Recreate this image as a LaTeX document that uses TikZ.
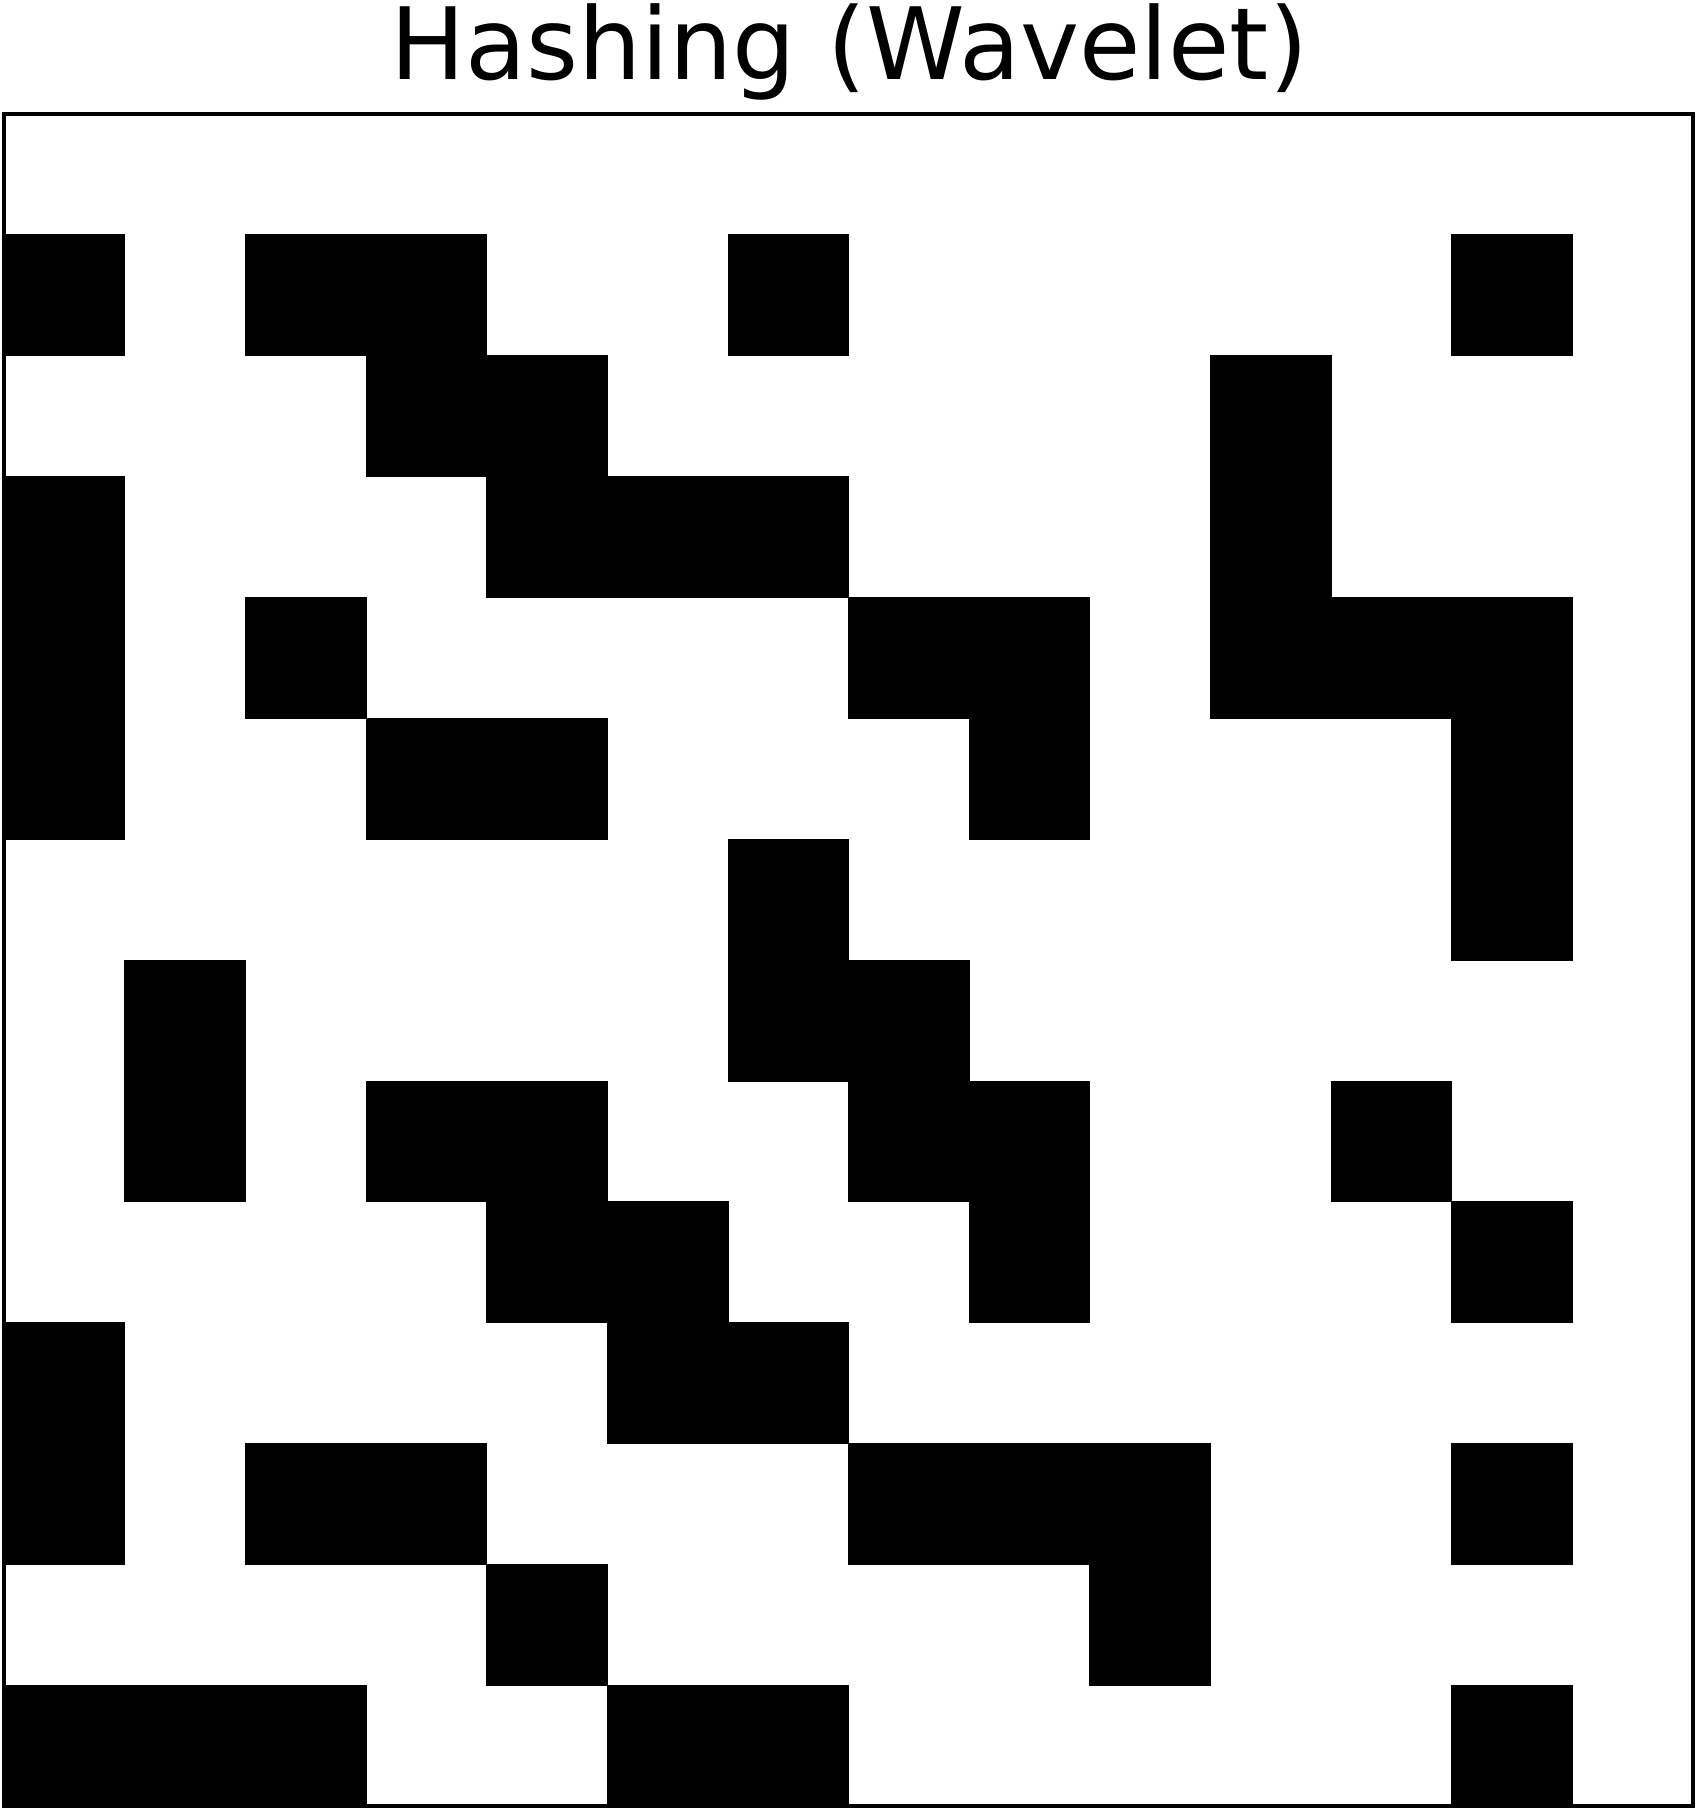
\documentclass[tikz,border=0pt]{standalone}
\usepackage{fontspec}
\setmainfont{DejaVu Sans}
\begin{document}
\begin{tikzpicture}
	\tikzstyle{cell} = [fill=black,draw=black,line width=0.2pt]
	\tikzstyle{frame} = [draw=black,line width=1.1pt]
	\useasboundingbox (0,0) rectangle (16.98,18.08);
	% title
	\node[anchor=base,inner sep=0pt,font=\fontsize{28.4}{34}\selectfont] (title) at (8.49,17.28) {Hashing (Wavelet)};
	\begin{scope}[shift={(0.04,16.94)},x=1.2064cm,y=-1.2086cm]
		% black cells, row/columns
		\foreach \r/\cols in {1/{0,2,3,6,12},2/{3,4,10},3/{0,4,5,6,10},4/{0,2,7,8,10,11,12},
			5/{0,3,4,8,12},6/{6,12},7/{1,6,7},8/{1,3,4,7,8,11},9/{4,5,8,12},10/{0,5,6},
			11/{0,2,3,7,8,9,12},12/{4,9},13/{0,1,2,5,6,12}}
			\foreach \c in \cols
				\path[cell] (\c,\r) rectangle ++(1,1);
		% frame
		\path[frame] (0,0) rectangle (14,14);
	\end{scope}
\end{tikzpicture}
\end{document}
